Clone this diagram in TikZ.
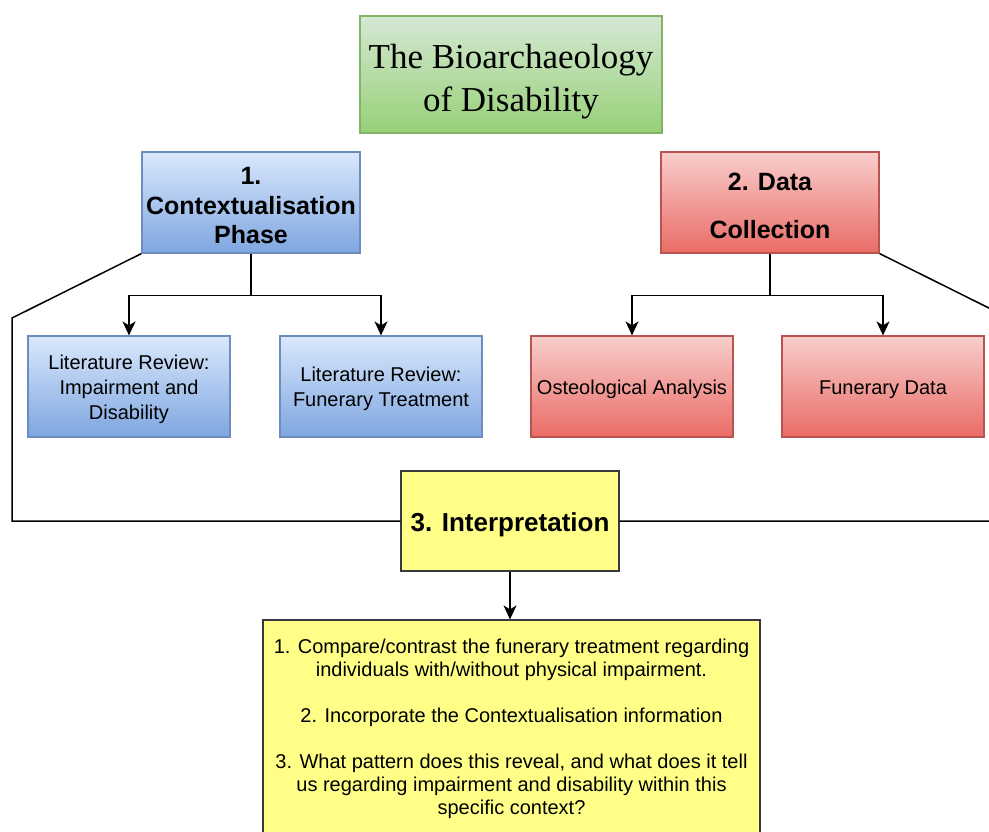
\documentclass[tikz,border=0pt]{standalone}
\usepackage{fontspec}
\setmainfont{Liberation Serif}
\setsansfont{Liberation Sans}
\usepackage{tikz}
\usetikzlibrary{shapes,arrows.meta,calc}
\usepackage{color}

\definecolor{grnTop}{HTML}{D5E8D4}
\definecolor{grnBot}{HTML}{97D077}
\definecolor{grnLine}{HTML}{82B366}
\definecolor{bluTop}{HTML}{DAE8FC}
\definecolor{bluBot}{HTML}{7EA6E0}
\definecolor{bluLine}{HTML}{6C8EBF}
\definecolor{redTop}{HTML}{F8CECC}
\definecolor{redBot}{HTML}{EA6B66}
\definecolor{redLine}{HTML}{B85450}
\definecolor{ylwFill}{HTML}{FFFF88}
\definecolor{ylwLine}{HTML}{36393D}

\begin{document}
\begin{tikzpicture}[x=1pt, y=-1pt, line width=1.5pt,
  tip/.style={-{Stealth[length=14pt, width=13pt, inset=4pt]}},
  box/.style={draw, rectangle, align=center, inner sep=0pt, line width=1.2pt},
  small/.style={box, minimum width=202, minimum height=101, font=\sffamily\fontsize{20}{25}\selectfont},
  phase/.style={box, minimum width=218, minimum height=101, font=\sffamily\bfseries\fontsize{25}{29.5}\selectfont},
  bluebox/.style={top color=bluTop, bottom color=bluBot, draw=bluLine},
  redbox/.style={top color=redTop, bottom color=redBot, draw=redLine},
  ylwbox/.style={fill=ylwFill, draw=ylwLine}]

\useasboundingbox (0,0) rectangle (989,831);
\clip (0,0) rectangle (989,831);

\node at (511,74.5) (title) [box, minimum width=302, minimum height=117, top color=grnTop, bottom color=grnBot, draw=grnLine, font=\fontsize{35}{43}\selectfont] {\rule{0pt}{39pt}The Bioarchaeology\\of Disability};

\node at (251,202.5) (ctx) [phase, bluebox] {\rule{0pt}{24pt}1.\\Contextualisation\\Phase};
\node at (770,202.5) (data) [phase, redbox] {\rule{0pt}{24pt}2. Data\\[19pt]Collection};

\node at (129,386.5) (litA) [small, bluebox] {\rule{0pt}{20pt}Literature Review:\\Impairment and\\Disability};
\node at (381,386.5) (litB) [small, bluebox] {\rule{0pt}{20pt}Literature Review:\\Funerary Treatment};
\node at (632,386.5) (osteo) [small, redbox] {\rule{0pt}{20pt}Osteological Analysis};
\node at (883,386.5) (fun) [small, redbox] {\rule{0pt}{20pt}Funerary Data};

\node at (510,521) (interp) [box, ylwbox, minimum width=218, minimum height=100, font=\sffamily\bfseries\fontsize{26}{30}\selectfont] {\rule{0pt}{27pt}3. Interpretation};

\node at (511.5,728.5) (notes) [box, ylwbox, minimum width=497, minimum height=217, font=\sffamily\fontsize{20}{23}\selectfont] {1. Compare/contrast the funerary treatment regarding\\individuals with/without physical impairment.\\[23pt]2. Incorporate the Contextualisation information\\[23pt]3. What pattern does this reveal, and what does it tell\\us regarding impairment and disability within this\\specific context?};

\coordinate (lbend) at (12,318);
\coordinate (rbend) at (1009,318);

\draw [tip] (ctx.south) -- ++(0,42) -| (litA);
\draw [tip] (ctx.south) -- ++(0,42) -| (litB);
\draw [tip] (data.south) -- ++(0,42) -| (osteo);
\draw [tip] (data.south) -- ++(0,42) -| (fun);
\draw (ctx.south west) -- (lbend) |- (interp.west);
\draw (data.south east) -- (rbend) |- (interp.east);
\draw [tip] (interp.south) -- (notes.north -| interp.south);
\end{tikzpicture}
\end{document}
